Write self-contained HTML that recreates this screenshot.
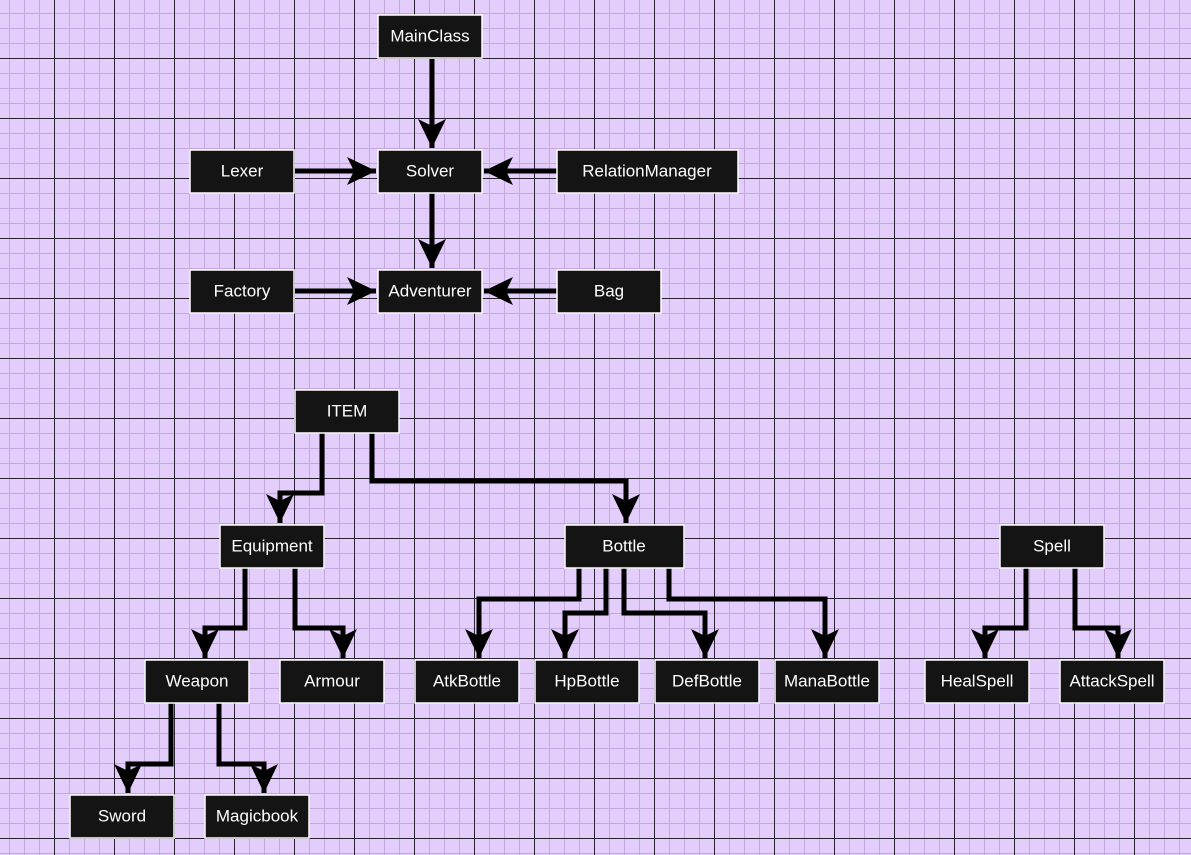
<!DOCTYPE html>
<html><head><meta charset="utf-8"><style>
html,body{margin:0;padding:0;}
body{width:1191px;height:855px;overflow:hidden;background:#e3cdfb;}
svg{display:block;}
text{font-family:"Liberation Sans",sans-serif;font-size:17px;fill:#fff;text-anchor:middle;dominant-baseline:central;}
</style></head><body>
<svg width="1191" height="855" xmlns="http://www.w3.org/2000/svg">
<defs>
<pattern id="minor" x="9" y="13" width="15" height="15" patternUnits="userSpaceOnUse">
<path d="M0 0V15M0 0H15" stroke="#c4a7dc" stroke-width="2" fill="none"/>
</pattern>
<pattern id="major" x="54" y="58" width="60" height="60" patternUnits="userSpaceOnUse">
<path d="M0.5 0V60M0 0.5H60" stroke="#2a2230" stroke-width="1" fill="none"/>
</pattern>
<marker id="ah" markerWidth="30" markerHeight="30" refX="29" refY="14" orient="auto" markerUnits="userSpaceOnUse">
<path d="M0 0 L29 14 L0 28 L7 14 Z" fill="#000"/>
</marker>
</defs>
<rect width="1191" height="855" fill="#e3cdfb"/>
<rect width="1191" height="855" fill="url(#minor)"/>
<rect width="1191" height="855" fill="url(#major)"/>
<g stroke="#000" stroke-width="5" fill="none" marker-end="url(#ah)">
<path d="M432 58V148"/>
<path d="M272 171H376"/>
<path d="M557 171H484"/>
<path d="M432 193V268"/>
<path d="M280 291H376"/>
<path d="M557 291H484"/>
<path d="M322 433V493H280V523"/>
<path d="M372 433V481H626V523"/>
<path d="M245 568V628H205V658"/>
<path d="M295 568V628H343V658"/>
<path d="M579 568V599H479V658"/>
<path d="M606 568V613H565V658"/>
<path d="M624 568V613H705V658"/>
<path d="M669 568V599H825V658"/>
<path d="M1026 568V628H985V658"/>
<path d="M1075 568V628H1118V658"/>
<path d="M171 703V764H128V793"/>
<path d="M219 703V764H264V793"/>
</g>
<g fill="#141414" stroke="#fff" stroke-width="1.5">
<rect x="378" y="15" width="104" height="43"/>
<rect x="378" y="150" width="104" height="43"/>
<rect x="190" y="150" width="104" height="43"/>
<rect x="557" y="150" width="181" height="43"/>
<rect x="190" y="270" width="104" height="43"/>
<rect x="378" y="270" width="104" height="43"/>
<rect x="557" y="270" width="104" height="43"/>
<rect x="295" y="390" width="104" height="43"/>
<rect x="220" y="525" width="104" height="43"/>
<rect x="565" y="525" width="119" height="43"/>
<rect x="1000" y="525" width="104" height="43"/>
<rect x="145" y="660" width="104" height="43"/>
<rect x="280" y="660" width="104" height="43"/>
<rect x="415" y="660" width="104" height="43"/>
<rect x="535" y="660" width="104" height="43"/>
<rect x="655" y="660" width="104" height="43"/>
<rect x="775" y="660" width="104" height="43"/>
<rect x="925" y="660" width="104" height="43"/>
<rect x="1060" y="660" width="104" height="43"/>
<rect x="70" y="795" width="104" height="43"/>
<rect x="205" y="795" width="104" height="43"/>
</g>
<text x="430" y="36">MainClass</text>
<text x="430" y="171">Solver</text>
<text x="242" y="171">Lexer</text>
<text x="647" y="171">RelationManager</text>
<text x="242" y="291">Factory</text>
<text x="430" y="291">Adventurer</text>
<text x="609" y="291">Bag</text>
<text x="347" y="411">ITEM</text>
<text x="272" y="546">Equipment</text>
<text x="624" y="546">Bottle</text>
<text x="1052" y="546">Spell</text>
<text x="197" y="681">Weapon</text>
<text x="332" y="681">Armour</text>
<text x="467" y="681">AtkBottle</text>
<text x="587" y="681">HpBottle</text>
<text x="707" y="681">DefBottle</text>
<text x="827" y="681">ManaBottle</text>
<text x="977" y="681">HealSpell</text>
<text x="1112" y="681">AttackSpell</text>
<text x="122" y="816">Sword</text>
<text x="257" y="816">Magicbook</text>
</svg>
</body></html>
